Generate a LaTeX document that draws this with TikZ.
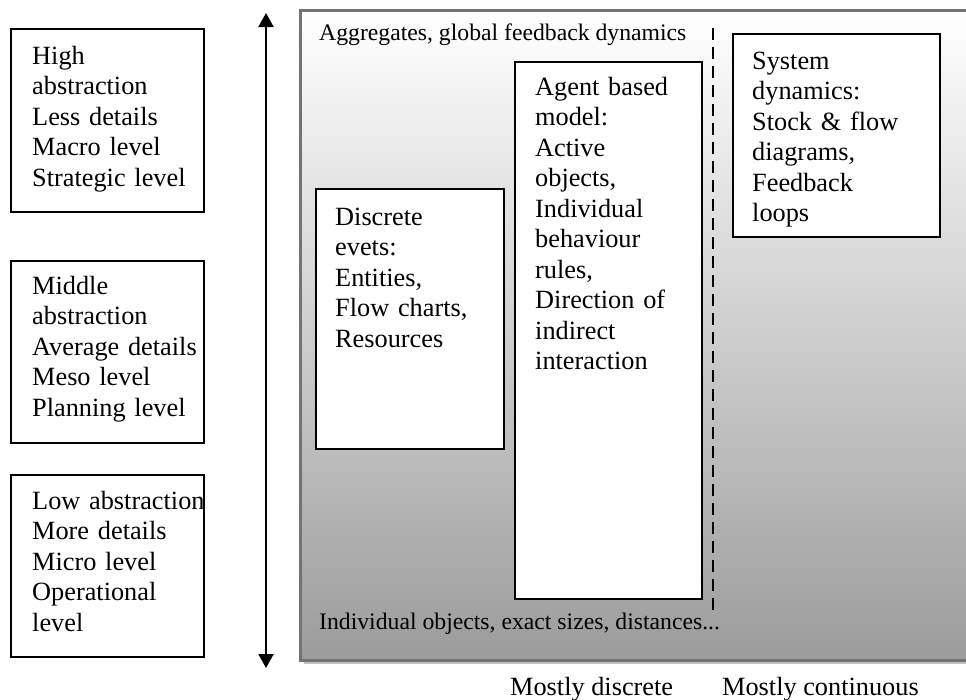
\documentclass[tikz,border=0pt]{standalone}
\usepackage{fontspec}
\setmainfont{Liberation Serif}
\usetikzlibrary{arrows.meta,shadows}

\newcommand\boxfont{\fontsize{26.3pt}{30.5pt}\selectfont}
\newcommand\lblfont{\fontsize{23.7pt}{28pt}\selectfont}

\tikzset{
  frame/.style={draw=black, line width=2pt, fill=white, inner sep=0pt, anchor=north west},
  boxtext/.style={font=\boxfont, align=left, inner sep=0pt, anchor=base west, text width=#1},
  boxtext/.default=200pt,
  lbl/.style={font=\lblfont, inner sep=0pt, anchor=base west},
  biglbl/.style={font=\boxfont, inner sep=0pt, anchor=base west},
  axis/.style={line width=2pt, {Triangle[length=14pt,width=15pt]}-{Triangle[length=14pt,width=15pt]}},
  divider/.style={line width=2pt, dash pattern=on 12pt off 7pt},
}

\begin{document}
\begin{tikzpicture}[x=1pt,y=-1pt]
\useasboundingbox (0,0) rectangle (966,699);

% shaded model area with its soft shadow
\node[draw=black!55, line width=2.5pt, top color=white, bottom color=black!39,
      anchor=north west, inner sep=0pt, minimum width=720pt, minimum height=650pt,
      drop shadow={shadow xshift=4pt, shadow yshift=-4pt, fill=black!25, opacity=1}]
      (area) at (299,9) {};

% level boxes on the left
\node[frame, minimum width=193pt, minimum height=183pt] (high) at (10,28) {};
\node[boxtext] (hight) at (32,64) {High\\abstraction\\Less details\\Macro level\\Strategic level};

\node[frame, minimum width=193pt, minimum height=182pt] (mid) at (10,260) {};
\node[boxtext] (midt) at (32,294) {Middle\\abstraction\\Average details\\Meso level\\Planning level};

\node[frame, minimum width=193pt, minimum height=182pt] (low) at (10,474) {};
\node[boxtext] (lowt) at (32,509) {Low abstraction\\More details\\Micro level\\Operational\\level};

% abstraction axis
\coordinate (axtop) at (266,13);
\coordinate (axbot) at (266,668);
\draw[axis] (axbot) -- (axtop);

% method boxes
\node[frame, minimum width=188pt, minimum height=260pt] (des) at (315,188) {};
\node[boxtext=165pt] (dest) at (335,225) {Discrete\\evets:\\Entities,\\Flow charts,\\Resources};

\node[frame, minimum width=187pt, minimum height=537pt] (abm) at (514,61) {};
\node[boxtext=165pt] (abmt) at (535,95) {Agent based\\model:\\Active\\objects,\\Individual\\behaviour\\rules,\\Direction of\\indirect\\interaction};

\node[frame, minimum width=207pt, minimum height=203pt] (sd) at (732,33) {};
\node[boxtext=185pt] (sdt) at (752,69) {System\\dynamics:\\Stock \& flow\\diagrams,\\Feedback\\loops};

% discrete / continuous divider
\coordinate (divtop) at (713,28);
\coordinate (divbot) at (713,613);
\draw[divider] (divtop) -- (divbot);

% scale labels
\node[lbl] (agg) at (319,40) {Aggregates, global feedback dynamics};
\node[lbl] (ind) at (319,629) {Individual objects, exact sizes, distances...};
\node[biglbl] (disc) at (510,695) {Mostly discrete};
\node[biglbl] (cont) at (722,695) {Mostly continuous};
\end{tikzpicture}
\end{document}
